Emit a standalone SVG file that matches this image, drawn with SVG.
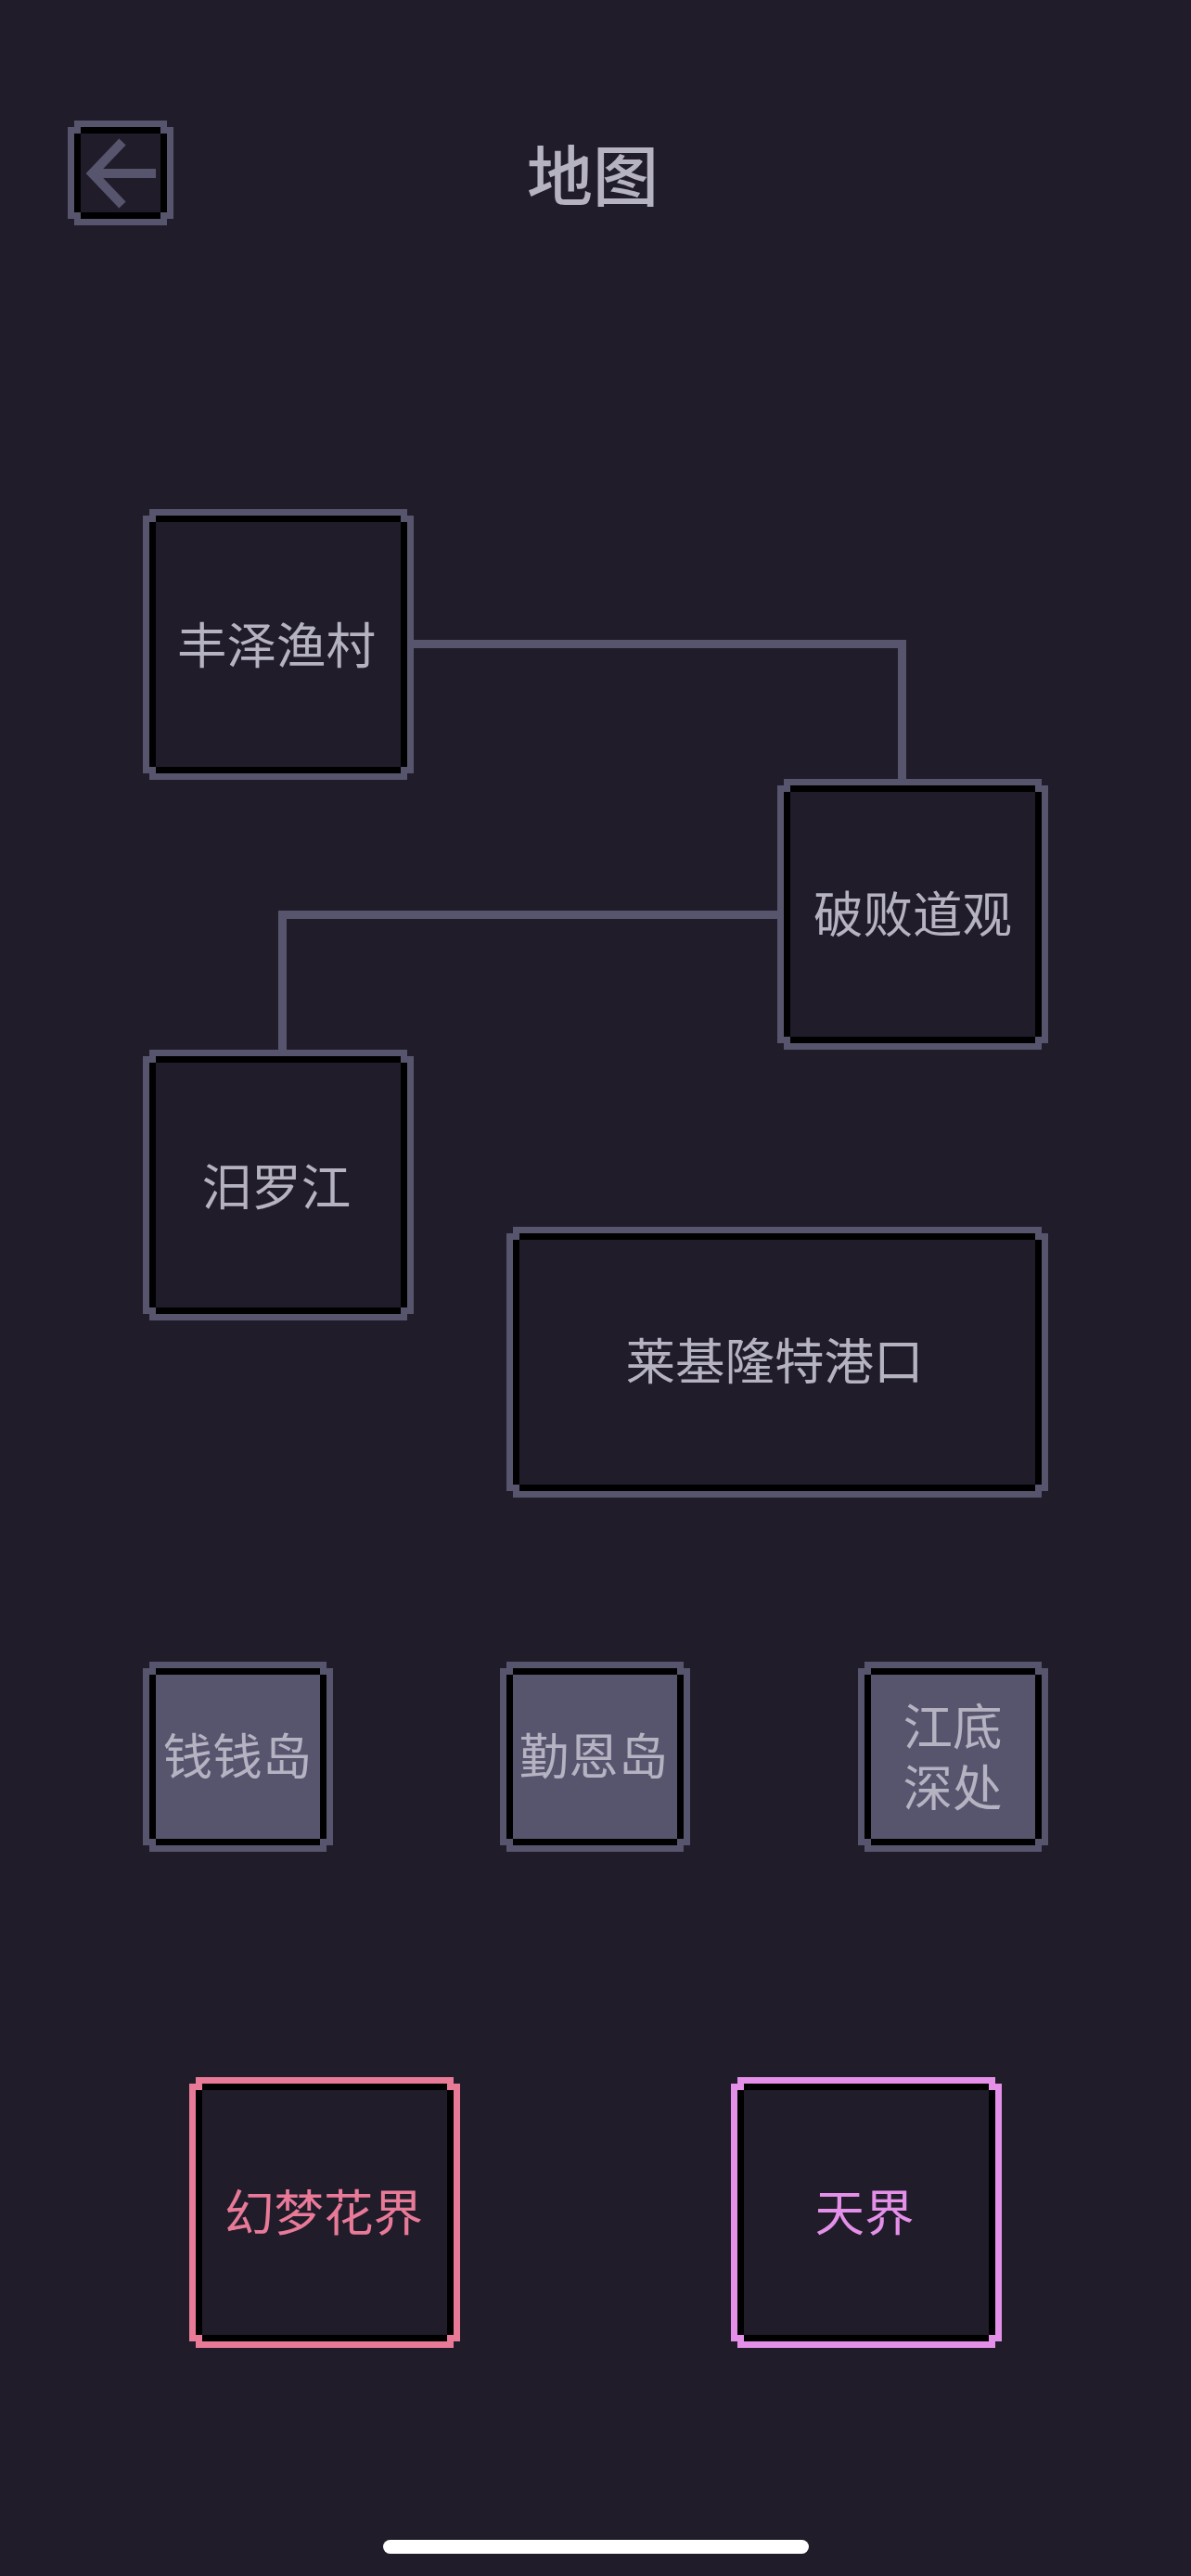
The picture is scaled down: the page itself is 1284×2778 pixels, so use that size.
<svg xmlns="http://www.w3.org/2000/svg" width="1284" height="2778" viewBox="0 0 1284 2778">
<style>
.k{fill:#000}
.bgf{fill:#211c2a}
.fl{fill:#57556e}
.b{fill:currentColor}
.c{fill:none;stroke:#57556e;stroke-width:9}
.box{shape-rendering:crispEdges}
text{font-family:"Noto Sans CJK SC","Noto Sans",sans-serif;font-size:53.5px;text-anchor:middle;fill:#b5b2c2}
.title{font-size:71px;font-weight:500}
.n{color:#57556e}
</style>
<defs>
<g id="sq" class="box"><path class="b" d="M7 0H285V7H292V285H285V292H7V285H0V7H7Z"/><rect class="k" x="14" y="7" width="264" height="278"/><rect class="k" x="7" y="14" width="278" height="264"/><rect class="bgf" x="14" y="14" width="264" height="264"/></g>
<g id="sm" class="box"><path class="b" d="M7 0H198V7H205V198H198V205H7V198H0V7H7Z"/><rect class="k" x="14" y="7" width="177" height="191"/><rect class="k" x="7" y="14" width="191" height="177"/><rect class="fl" x="14" y="14" width="177" height="177"/></g>
</defs>
<rect class="bgf" width="1284" height="2778"/>
<g id="connectors">
<path class="c" d="M446 694.5H972.5V840"/>
<path class="c" d="M838 986.5H304.5V1132"/>
</g>
<g id="back" class="n">
<g class="box">
<path class="b" d="M80 130H180V137H187V236H180V243H80V236H73V137H80Z"/>
<rect class="k" x="87" y="137" width="86" height="99"/>
<rect class="k" x="80" y="144" width="100" height="85"/>
<rect class="bgf" x="87" y="144" width="86" height="85"/>
</g>
<path d="M132 153L99.5 187L132 221M99.5 187H168" fill="none" stroke="#57556e" stroke-width="10"/>
</g>
<text class="title" x="639" y="216">地图</text>
<g id="node-fengze" class="n"><use href="#sq" x="154" y="549"/><text x="298" y="716">丰泽渔村</text></g>
<g id="node-pobai" class="n"><use href="#sq" x="838" y="840"/><text x="984" y="1006">破败道观</text></g>
<g id="node-miluo" class="n"><use href="#sq" x="154" y="1132"/><text x="298" y="1300">汨罗江</text></g>
<g id="node-port" class="n">
<g class="box">
<path class="b" d="M553 1323H1123V1330H1130V1608H1123V1615H553V1608H546V1330H553Z"/>
<rect class="k" x="560" y="1330" width="556" height="278"/>
<rect class="k" x="553" y="1337" width="570" height="264"/>
<rect class="bgf" x="560" y="1337" width="556" height="264"/>
</g>
<text x="835" y="1488">莱基隆特港口</text>
</g>
<g id="node-qian" class="n"><use href="#sm" x="154" y="1792"/><text x="256" y="1914">钱钱岛</text></g>
<g id="node-qinen" class="n"><use href="#sm" x="539" y="1792"/><text x="640" y="1914">勤恩岛</text></g>
<g id="node-jiangdi" class="n"><use href="#sm" x="925" y="1792"/><text><tspan x="1027" y="1882">江底</tspan><tspan x="1027" y="1948">深处</tspan></text></g>
<g id="node-huanmeng" color="#e87a98"><use href="#sq" x="204" y="2240"/><text x="349" y="2406" style="fill:#e87a98">幻梦花界</text></g>
<g id="node-tianjie" color="#e490e8"><use href="#sq" x="788" y="2240"/><text x="932" y="2406" style="fill:#e490e8">天界</text></g>
<rect id="home-indicator" x="413" y="2739" width="459" height="15" rx="7.5" fill="#fff"/>
</svg>
